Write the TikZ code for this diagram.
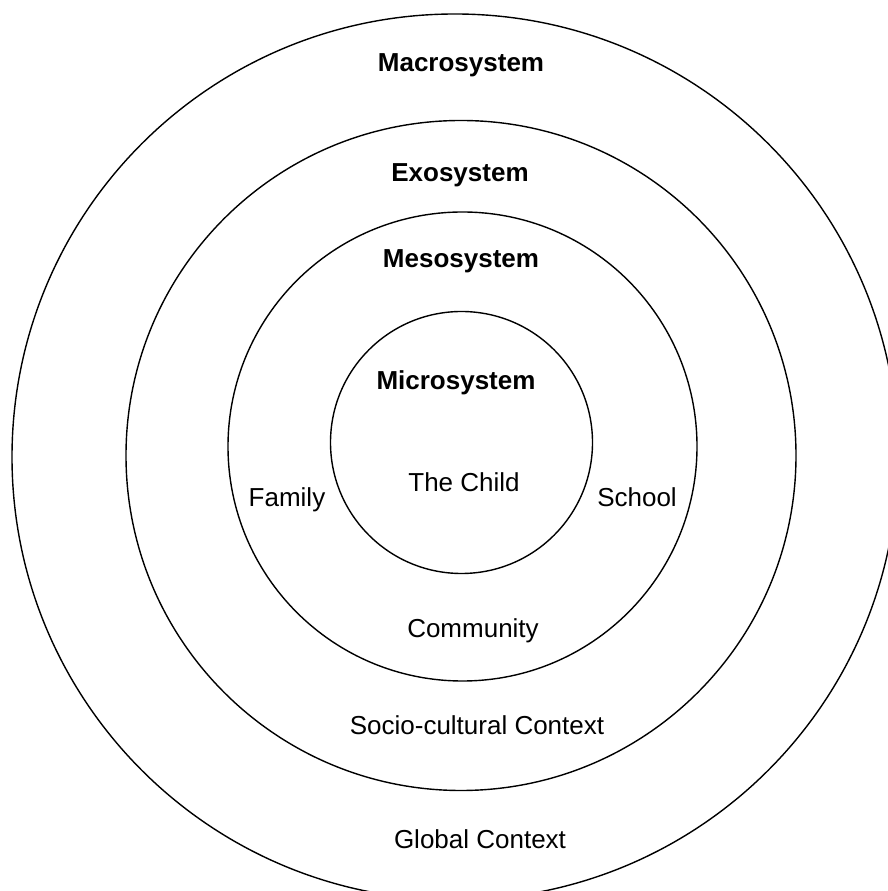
\documentclass[tikz,border=0pt]{standalone}
\usepackage{fontspec}
\setmainfont{Liberation Sans}
\begin{document}
\begin{tikzpicture}[x=1bp,y=1bp,
  ring/.style={draw=black, line width=1.4bp, circle, inner sep=0pt, fill=none},
  title/.style={anchor=base, inner sep=0pt, font=\fontsize{26bp}{30bp}\selectfont\bfseries},
  label/.style={anchor=base, inner sep=0pt, font=\fontsize{26bp}{30bp}\selectfont}]
\useasboundingbox (0,0) rectangle (888,891);
\clip (0,0) rectangle (888,891);
\fill[white] (0,0) rectangle (888,891);
\node[ring, minimum size=886bp] (macro) at (455,434) {};
\node[ring, minimum size=670bp] (exo) at (461,435.5) {};
\node[ring, minimum size=469bp] (meso) at (462.5,444.5) {};
\node[ring, minimum size=262bp] (micro) at (461.5,448.5) {};
\node[title] (tmacro) at (461,819) {Macrosystem};
\node[title] (texo) at (460,709) {Exosystem};
\node[title] (tmeso) at (461,623) {Mesosystem};
\node[title] (tmicro) at (456,501) {Microsystem};
\node[label] (child) at (464,399) {The Child};
\node[label] (family) at (287,384) {Family};
\node[label] (school) at (637,384) {School};
\node[label] (community) at (473,253) {Community};
\node[label] (socio) at (477,156) {Socio-cultural Context};
\node[label] (global) at (480,42) {Global Context};
\end{tikzpicture}
\end{document}
